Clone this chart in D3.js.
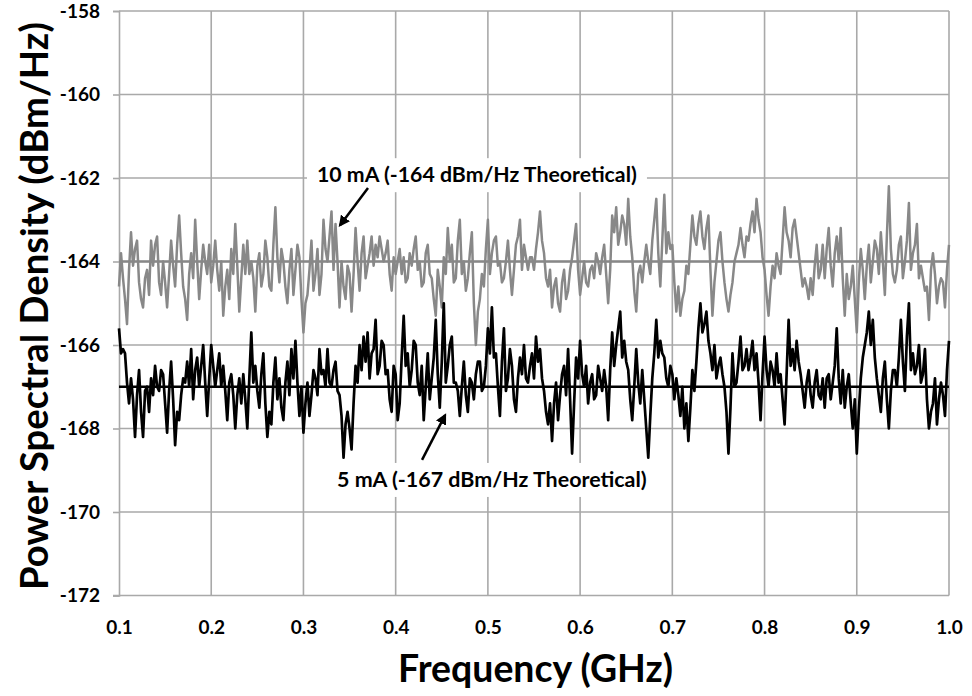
<!DOCTYPE html>
<html>
<head>
<meta charset="utf-8">
<script src="https://cdn.jsdelivr.net/npm/d3@7"></script>
<style>
  body { margin: 0; background: #fff; }
  text { font-family: Lato, "Open Sans", sans-serif; font-weight: bold; fill: #000; }
</style>
</head>
<body>
<svg id="chart" width="972" height="696"></svg>
<script>
// axis ticks
const xTicks = [0.1, 0.2, 0.3, 0.4, 0.5, 0.6, 0.7, 0.8, 0.9, 1.0];
const yTicks = [-172, -170, -168, -166, -164, -162, -160, -158];

// theoretical levels (dBm/Hz)
const theory10mA = -164;
const theory5mA = -167;

// measured PSD, 10 mA (gray): samples on the even grid points from 0.1 to 1.0 GHz
const psd10mA = [
  -164.6, -164.4, -165.5, -163.3, -163.7, -164.5, -165.1, -164.2, -163.5, -163.6,
  -164.5, -164.0, -165.1, -163.5, -164.6, -162.9, -164.6, -165.4, -163.8, -163.0,
  -164.9, -163.6, -164.3, -164.5, -163.5, -164.7, -165.3, -164.2, -163.7, -163.1,
  -165.2, -163.6, -163.5,
  -164.0, -165.2, -163.8, -164.3, -163.9, -164.7, -162.7, -164.5, -164.0, -165.0,
  -163.7, -164.2, -163.9, -165.7, -164.8, -163.5, -164.3, -164.8, -163.0, -164.0,
  -162.8, -163.1, -165.1, -164.6, -164.1, -165.2, -163.2, -164.7, -163.4, -164.1,
  -163.4, -163.6, -163.4, -164.0, -163.5,
  -164.7, -164.3, -163.7, -163.9, -164.4, -164.1, -163.4, -164.0, -164.5, -163.6,
  -164.4, -165.3, -164.6, -163.9, -163.2, -163.6, -164.4, -163.0, -164.0, -164.4,
  -163.3, -166.0, -164.9, -164.6, -163.0, -163.8, -163.4, -164.0, -164.4, -163.5,
  -164.8, -163.6, -163.0, -163.6, -164.2,
  -163.9, -163.7, -162.8, -163.8, -164.6, -165.1, -164.4, -165.2, -164.2, -164.7,
  -163.9, -163.1, -164.8, -164.0, -164.6, -164.1, -163.8, -164.3, -163.6, -165.0,
  -162.9, -162.7, -163.3, -163.1, -162.5, -163.9, -165.2, -164.1, -164.0, -164.0,
  -163.5, -162.5, -164.6, -162.4, -163.3,
  -163.6, -165.2, -165.3, -164.7, -164.3, -162.9, -163.6, -162.8, -163.7, -162.9,
  -165.3, -164.0, -163.3, -164.5, -165.2, -164.5, -163.8, -163.2, -163.9, -163.5,
  -162.8, -162.5, -163.3, -164.2, -165.3, -164.1, -163.8, -164.3, -162.7, -163.5,
  -163.2, -163.4, -164.2, -164.4, -164.9,
  -164.8, -163.6, -164.2, -164.4, -163.2, -164.6, -163.4, -163.2, -165.3, -164.9,
  -164.1, -165.7, -163.7, -164.9, -163.6, -164.0, -163.7, -163.3, -164.8, -162.2,
  -164.3, -164.2, -163.4, -164.0, -162.6, -163.8, -163.1, -164.1, -164.7, -165.4,
  -163.8, -165.0, -164.4, -165.1, -163.6
];
// 10 mA samples read half-way between the grid points above
const psd10mAMid = [
  -163.8, -164.9, -164.2, -164.1, -163.5, -164.9, -164.4, -164.8, -164.1, -163.4,
  -164.8, -164.5, -164.3, -164.1, -163.6, -163.8, -164.9, -164.3, -164.4, -164.0,
  -164.2, -164.0, -163.6, -164.1, -164.2, -164.0, -164.6, -164.9, -164.3, -164.1,
  -164.4, -164.3, -164.3,
  -164.4, -164.1, -164.6, -163.5, -164.6, -163.6, -163.9, -163.7, -164.6, -164.2,
  -164.8, -163.6, -164.9, -165.0, -164.2, -164.7, -163.7, -164.3, -163.7, -163.4,
  -164.2, -164.0, -164.0, -164.9, -164.3, -164.3, -164.0, -163.8, -164.4, -163.8,
  -164.1, -163.9, -163.7, -163.8, -164.3,
  -163.9, -164.0, -164.3, -164.5, -163.8, -163.7, -164.2, -164.6, -163.8, -164.3,
  -164.9, -164.2, -165.1, -164.3, -164.0, -164.5, -163.5, -164.3, -164.7, -163.8,
  -165.0, -165.2, -164.3, -163.7, -164.3, -163.5, -164.1, -164.5, -164.0, -164.2,
  -164.2, -163.4, -164.2, -163.9, -163.9,
  -164.2, -163.3, -163.5, -164.4, -164.2, -164.6, -165.0, -164.5, -164.9, -164.2,
  -163.5, -164.2, -164.4, -164.5, -164.2, -164.4, -164.0, -163.9, -164.3, -164.2,
  -163.3, -163.6, -162.9, -163.6, -163.4, -164.7, -164.3, -164.5, -163.6, -164.3,
  -163.0, -163.8, -163.5, -163.8, -163.7,
  -164.5, -164.6, -164.9, -164.1, -163.6, -163.4, -163.1, -163.4, -163.2, -164.2,
  -164.5, -163.5, -164.0, -164.9, -164.8, -164.0, -163.6, -163.6, -163.4, -163.1,
  -163.3, -163.0, -163.9, -164.8, -164.6, -164.4, -164.1, -163.5, -163.3, -163.9,
  -163.0, -163.8, -164.6, -164.6, -164.4,
  -164.1, -164.4, -163.6, -163.7, -164.1, -163.8, -164.0, -164.4, -164.3, -164.6,
  -164.9, -164.5, -164.2, -164.1, -164.5, -163.5, -164.3, -164.0, -163.4, -163.7,
  -164.5, -163.6, -164.4, -163.5, -164.2, -163.6, -164.4, -164.4, -164.6, -164.2,
  -164.3, -164.6, -164.5, -164.2
];

// measured PSD, 5 mA (black), same grid
const psd5mA = [
  -165.6, -166.1, -166.9, -166.8, -168.2, -166.6, -168.2, -167.0, -166.8, -166.5,
  -167.1, -166.7, -168.1, -166.4, -168.4, -167.8, -166.8, -166.4, -166.1, -166.6,
  -167.0, -166.0, -167.7, -166.0, -167.0, -166.2, -166.5, -167.8, -166.7, -168.0,
  -166.8, -166.7, -168.0,
  -165.7, -166.5, -167.5, -166.2, -168.2, -167.9, -166.3, -166.8, -167.8, -166.4,
  -166.1, -165.9, -167.7, -168.1, -166.9, -167.2, -166.8, -166.1, -166.6, -166.1,
  -167.0, -166.4, -167.2, -168.7, -167.6, -168.5, -166.5, -166.0, -165.8, -165.7,
  -166.2, -165.4, -166.5, -166.0, -166.6,
  -167.6, -166.7, -167.4, -165.3, -166.2, -166.6, -166.0, -167.2, -167.8, -166.2,
  -166.8, -165.4, -167.5, -165.0, -166.5, -165.8, -166.9, -167.7, -166.4, -167.6,
  -166.9, -166.7, -166.4, -167.0, -165.6, -165.1, -166.2, -167.7, -165.6, -166.8,
  -166.5, -167.6, -166.3, -166.0, -166.9,
  -166.2, -165.8, -166.1, -167.1, -167.9, -168.3, -166.9, -167.2, -166.5, -166.1,
  -168.6, -166.3, -165.9, -167.0, -167.4, -166.7, -167.2, -166.8, -166.6, -167.8,
  -165.7, -166.0, -165.2, -165.9, -166.6, -167.8, -166.1, -167.4, -167.3, -168.7,
  -166.8, -165.4, -165.9, -166.3, -167.0,
  -166.7, -166.8, -167.7, -168.0, -168.3, -166.6, -166.4, -165.0, -165.5, -165.9,
  -166.6, -166.8, -166.3, -167.0, -168.6, -166.2, -166.9, -165.8, -166.5, -166.6,
  -165.9, -166.2, -167.8, -165.8, -167.0, -166.6, -166.2, -166.7, -167.9, -165.4,
  -166.1, -165.9, -166.7, -167.5, -166.6,
  -167.5, -166.6, -167.3, -167.5, -166.7, -166.9, -165.6, -167.4, -167.5, -166.7,
  -168.0, -168.6, -166.8, -166.0, -165.2, -165.4, -166.8, -167.6, -166.4, -168.0,
  -166.6, -167.0, -165.4, -167.1, -165.0, -166.2, -166.5, -166.9, -166.1, -168.0,
  -167.4, -167.9, -166.9, -167.7, -165.9
];
// 5 mA samples read half-way between the grid points above
const psd5mAMid = [
  -166.2, -166.2, -167.4, -167.3, -167.2, -167.6, -167.1, -167.6, -167.2, -167.0,
  -166.6, -167.4, -167.1, -167.3, -167.6, -167.2, -166.9, -167.0, -167.3, -166.3,
  -166.5, -166.9, -166.8, -166.5, -166.6, -167.0, -167.1, -166.9, -167.2, -167.2,
  -167.4, -167.3, -166.8,
  -166.9, -167.1, -166.7, -167.4, -167.6, -166.9, -167.3, -167.5, -166.9, -167.2,
  -166.8, -166.9, -167.0, -167.4, -167.7, -166.6, -167.2, -166.7, -167.0, -166.9,
  -166.6, -167.1, -167.7, -167.9, -168.0, -167.4, -166.9, -166.6, -166.4, -166.8,
  -166.1, -166.7, -165.9, -166.7, -167.3,
  -166.5, -167.8, -166.3, -166.5, -167.0, -165.9, -166.9, -166.5, -167.0, -167.3,
  -166.3, -166.7, -166.4, -166.9, -166.0, -166.9, -167.1, -167.0, -167.2, -166.8,
  -167.3, -166.4, -167.1, -166.5, -166.2, -166.3, -167.0, -166.4, -167.1, -166.1,
  -167.3, -166.8, -166.7, -166.8, -166.5,
  -166.8, -166.4, -166.8, -167.6, -167.4, -167.4, -167.8, -166.7, -167.2, -167.3,
  -167.4, -166.8, -166.7, -166.5, -166.9, -167.3, -166.5, -167.1, -167.0, -166.6,
  -166.5, -165.6, -166.3, -166.4, -167.3, -167.0, -166.9, -166.6, -168.0, -167.7,
  -166.2, -166.3, -166.2, -166.8, -166.5,
  -167.3, -167.2, -167.0, -167.4, -167.5, -167.1, -165.6, -165.7, -165.2, -166.2,
  -166.0, -166.5, -166.7, -167.6, -167.5, -167.0, -166.4, -166.6, -166.1, -166.3,
  -166.6, -166.9, -166.7, -166.6, -166.4, -167.0, -166.9, -167.3, -166.7, -166.5,
  -166.6, -166.4, -167.1, -166.9, -167.2,
  -166.9, -167.2, -166.8, -166.8, -167.3, -166.5, -166.8, -166.6, -167.0, -167.4,
  -167.3, -167.6, -166.3, -165.7, -166.0, -166.3, -167.2, -166.8, -167.3, -167.1,
  -166.6, -166.3, -166.4, -165.8, -166.6, -166.7, -166.0, -166.7, -167.3, -167.6,
  -166.8, -167.3, -167.2, -166.6
];

// annotation labels and arrows, in data units (GHz, dBm/Hz)
const noteText = ["10 mA (-164 dBm/Hz Theoretical)", "5 mA (-167 dBm/Hz Theoretical)"];
const noteAt = [[0.3147, -162.10], [0.3364, -169.40]];
const arrowFrom = [[0.370, -162.24], [0.4286, -168.75]];
const arrowTo = [[0.3397, -163.13], [0.4536, -167.68]];

const svg = d3.select('#chart');
const W = 972, H = 696;
const margin = {left: 119, right: 23, top: 11, bottom: 100.5};

svg.append('rect').attr('width', W).attr('height', H).attr('fill', '#fff');

const x = d3.scaleLinear().domain([0.1, 1.0]).range([margin.left, W - margin.right]);
const y = d3.scaleLinear().domain([-172, -158]).range([H - margin.bottom, margin.top]);

const GRID = '#a9a9a9';

// gridlines
const grid = svg.append('g').attr('class', 'grid');
grid.selectAll('.vgrid').data(xTicks.slice(1))
  .enter().append('line')
    .attr('class', 'vgrid')
    .attr('x1', d => x(d)).attr('x2', d => x(d))
    .attr('y1', y(-158)).attr('y2', y(-172))
    .attr('stroke', GRID).attr('stroke-width', 1.6);
grid.selectAll('.hgrid').data(yTicks.slice(1))
  .enter().append('line')
    .attr('class', 'hgrid')
    .attr('x1', x(0.1)).attr('x2', x(1.0))
    .attr('y1', d => y(d)).attr('y2', d => y(d))
    .attr('stroke', GRID).attr('stroke-width', 1.6);

// axes
const yAxis = svg.append('g')
  .attr('transform', `translate(${x(0.1)},0)`)
  .call(d3.axisLeft(y).tickValues(yTicks).tickSize(6).tickPadding(13).tickFormat(d => String(d)));
const xAxis = svg.append('g')
  .attr('transform', `translate(0,${y(-172)})`)
  .call(d3.axisBottom(x).tickValues(xTicks).tickSize(0).tickPadding(25).tickFormat(d => d.toFixed(1)));

[yAxis, xAxis].forEach(ax => {
  ax.select('.domain').attr('stroke', GRID).attr('stroke-width', 1.6);
  ax.selectAll('.tick line').attr('stroke', GRID).attr('stroke-width', 1.6);
  ax.selectAll('.tick text')
    .attr('font-family', 'Lato, "Open Sans", sans-serif')
    .attr('font-weight', 'bold')
    .attr('font-size', 19)
    .attr('fill', '#000');
});
xAxis.select('.domain').attr('d', `M${x(0.1) - 6},0H${x(1.0)}`);

// merge grid samples with the half-way samples
function interleave(main, mid) {
  const out = [];
  main.forEach((v, i) => {
    out.push(v);
    if (i < mid.length && i < main.length - 1) out.push(mid[i]);
  });
  return out;
}
const trace10 = interleave(psd10mA, psd10mAMid);
const trace5 = interleave(psd5mA, psd5mAMid);

// evenly spaced frequency grid for the sampled traces
const freqGrid = n => d3.range(n).map(i => 0.1 + i * 0.9 / (n - 1));
const f10 = freqGrid(trace10.length), f5 = freqGrid(trace5.length);

const traces = svg.append('g').attr('class', 'traces');

traces.append('line')
  .attr('x1', x(0.1)).attr('x2', x(1.0))
  .attr('y1', y(theory10mA)).attr('y2', y(theory10mA))
  .attr('stroke', '#888').attr('stroke-width', 2.4);

traces.append('path')
  .datum(trace10)
  .attr('d', d3.line().x((d, i) => x(f10[i])).y(d => y(d)))
  .attr('fill', 'none')
  .attr('stroke', '#888')
  .attr('stroke-width', 2.5)
  .attr('stroke-linejoin', 'round');

traces.append('path')
  .datum(trace5)
  .attr('d', d3.line().x((d, i) => x(f5[i])).y(d => y(d)))
  .attr('fill', 'none')
  .attr('stroke', '#000')
  .attr('stroke-width', 2.7)
  .attr('stroke-linejoin', 'round');

traces.append('line')
  .attr('x1', x(0.1)).attr('x2', x(1.0))
  .attr('y1', y(theory5mA)).attr('y2', y(theory5mA))
  .attr('stroke', '#000').attr('stroke-width', 2.6);

// fit a text element to a target width by scaling its font size
function fitText(sel, base, target) {
  sel.attr('font-size', base);
  const len = sel.node().getComputedTextLength();
  sel.attr('font-size', base * target / len);
}

// annotations
const defs = svg.append('defs');
defs.append('marker')
  .attr('id', 'head')
  .attr('viewBox', '0 0 10 10')
  .attr('refX', 8).attr('refY', 5)
  .attr('markerWidth', 4.5).attr('markerHeight', 4.5)
  .attr('orient', 'auto')
  .append('path').attr('d', 'M0,0L10,5L0,10Z').attr('fill', '#000');

const noteWidths = [320, 310];
noteText.forEach((t, i) => {
  const g = svg.append('g');
  const bg = g.append('rect').attr('fill', '#fff');
  const txt = g.append('text')
    .attr('x', x(noteAt[i][0]))
    .attr('y', y(noteAt[i][1]))
    .text(t);
  fitText(txt, 16, noteWidths[i]);
  const bb = txt.node().getBBox();
  bg.attr('x', bb.x - 10).attr('y', bb.y - 3)
    .attr('width', bb.width + 20).attr('height', bb.height + 8);

  svg.append('line')
    .attr('x1', x(arrowFrom[i][0])).attr('y1', y(arrowFrom[i][1]))
    .attr('x2', x(arrowTo[i][0])).attr('y2', y(arrowTo[i][1]))
    .attr('stroke', '#000').attr('stroke-width', 2.5)
    .attr('marker-end', 'url(#head)');
});

// axis titles
const xTitle = svg.append('text')
  .attr('x', 535.5).attr('y', 682)
  .attr('text-anchor', 'middle')
  .text('Frequency (GHz)');
fitText(xTitle, 34, 275);

const yTitle = svg.append('text')
  .attr('transform', 'translate(48,306) rotate(-90)')
  .attr('text-anchor', 'middle')
  .text('Power Spectral Density (dBm/Hz)');
fitText(yTitle, 34, 568);
</script>
</body>
</html>
